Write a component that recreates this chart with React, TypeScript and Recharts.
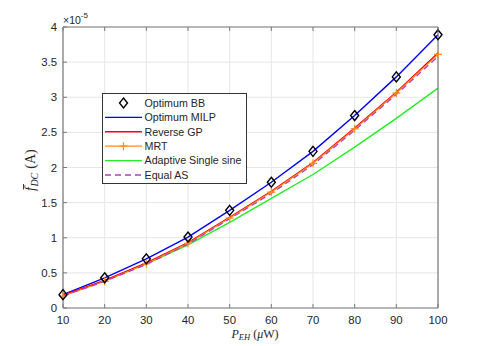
import React from 'react';
import { LineChart, Line, XAxis, YAxis, CartesianGrid, Legend } from 'recharts';

const powerLevels = [10, 20, 30, 40, 50, 60, 70, 80, 90, 100];
const optimumBB = [0.19, 0.43, 0.7, 1.01, 1.39, 1.79, 2.23, 2.74, 3.29, 3.89];
const optimumMILP = [0.19, 0.43, 0.7, 1.01, 1.39, 1.79, 2.23, 2.74, 3.29, 3.89];
const reverseGP = [0.18, 0.39, 0.64, 0.93, 1.29, 1.66, 2.07, 2.56, 3.07, 3.63];
const mrt = [0.17, 0.38, 0.63, 0.92, 1.28, 1.65, 2.06, 2.55, 3.06, 3.61];
const adaptiveSingleSine = [0.18, 0.39, 0.63, 0.9, 1.22, 1.56, 1.9, 2.29, 2.7, 3.13];
const equalAS = [0.17, 0.38, 0.62, 0.91, 1.27, 1.63, 2.04, 2.53, 3.04, 3.58];

const xTicks = [10, 20, 30, 40, 50, 60, 70, 80, 90, 100];
const yTicks = [0, 0.5, 1, 1.5, 2, 2.5, 3, 3.5, 4];
const yTickLabels = ['0', '0.5', '1', '1.5', '2', '2.5', '3', '3.5', '4'];
const exponentLabel = '-5';

const seriesNames = {
  bb: 'Optimum BB',
  milp: 'Optimum MILP',
  gp: 'Reverse GP',
  mrt: 'MRT',
  as: 'Adaptive Single sine',
  eas: 'Equal AS',
};

const COLORS = {
  milp: '#0000ff',
  gp: '#ff0000',
  mrt: '#ff8c1a',
  as: '#22ee22',
  eas: '#b040c0',
};

const data = powerLevels.map((p, i) => ({
  p,
  bb: optimumBB[i],
  milp: optimumMILP[i],
  gp: reverseGP[i],
  mrt: mrt[i],
  as: adaptiveSingleSine[i],
  eas: equalAS[i],
}));

const SANS = '"Liberation Sans", Arial, Helvetica, sans-serif';
const SERIF = '"Liberation Serif", "Times New Roman", serif';
const AXIS_COLOR = '#7a7a7a';
const TEXT_COLOR = '#262626';
const TICK_FS = 11.4;

const BottomTick = (props: any) => {
  const { x, y, payload } = props;
  return (
    <g>
      <line x1={x} x2={x} y1={y} y2={y - 4} stroke={AXIS_COLOR} strokeWidth={1} />
      <text x={x} y={y + 16} textAnchor="middle" fontFamily={SANS} fontSize={TICK_FS} fill={TEXT_COLOR}>
        {payload.value}
      </text>
    </g>
  );
};

const TopTick = (props: any) => {
  const { x, y } = props;
  return <line x1={x} x2={x} y1={y} y2={y + 4} stroke={AXIS_COLOR} strokeWidth={1} />;
};

const LeftTick = (props: any) => {
  const { x, y, payload } = props;
  const idx = yTicks.indexOf(payload.value);
  const label = idx >= 0 ? yTickLabels[idx] : String(payload.value);
  return (
    <g>
      <line x1={x} x2={x + 4} y1={y} y2={y} stroke={AXIS_COLOR} strokeWidth={1} />
      <text x={x - 6} y={y + 4} textAnchor="end" fontFamily={SANS} fontSize={TICK_FS} fill={TEXT_COLOR}>
        {label}
      </text>
    </g>
  );
};

const RightTick = (props: any) => {
  const { x, y } = props;
  return <line x1={x} x2={x - 4} y1={y} y2={y} stroke={AXIS_COLOR} strokeWidth={1} />;
};

const Diamond = (props: any) => {
  const { cx, cy, index } = props;
  if (cx == null || cy == null) return <g key={`d-${index}`} />;
  return (
    <path
      key={`d-${index}`}
      d={`M${cx},${cy - 5} L${cx + 4},${cy} L${cx},${cy + 5} L${cx - 4},${cy} Z`}
      fill="none"
      stroke="#000"
      strokeWidth={1.4}
    />
  );
};

const Plus = (props: any) => {
  const { cx, cy, index } = props;
  if (cx == null || cy == null) return <g key={`p-${index}`} />;
  return (
    <path
      key={`p-${index}`}
      d={`M${cx - 4},${cy} L${cx + 4},${cy} M${cx},${cy - 4} L${cx},${cy + 4}`}
      stroke={COLORS.mrt}
      strokeWidth={1.2}
      fill="none"
    />
  );
};

const LegendBox = () => {
  const rows = [
    { key: 'bb', label: seriesNames.bb },
    { key: 'milp', label: seriesNames.milp },
    { key: 'gp', label: seriesNames.gp },
    { key: 'mrt', label: seriesNames.mrt },
    { key: 'as', label: seriesNames.as },
    { key: 'eas', label: seriesNames.eas },
  ];
  const W = 145;
  const H = 91;
  return (
    <svg width={W} height={H} style={{ display: 'block' }}>
      <rect x={0.5} y={0.5} width={W - 1} height={H - 1} fill="#fff" stroke="#333" strokeWidth={1} />
      {rows.map((r, i) => {
        const cy = 10 + i * 14.4;
        const x1 = 3;
        const x2 = 40;
        const mid = (x1 + x2) / 2;
        let sample: React.ReactNode = null;
        if (r.key === 'bb') {
          sample = (
            <path d={`M${mid},${cy - 5} L${mid + 4},${cy} L${mid},${cy + 5} L${mid - 4},${cy} Z`} fill="none" stroke="#000" strokeWidth={1.4} />
          );
        } else if (r.key === 'mrt') {
          sample = (
            <g>
              <line x1={x1} x2={x2} y1={cy} y2={cy} stroke={COLORS.mrt} strokeWidth={1.2} />
              <path d={`M${mid - 4},${cy} L${mid + 4},${cy} M${mid},${cy - 4} L${mid},${cy + 4}`} stroke={COLORS.mrt} strokeWidth={1.2} />
            </g>
          );
        } else if (r.key === 'eas') {
          sample = <line x1={x1} x2={x2} y1={cy} y2={cy} stroke={COLORS.eas} strokeWidth={1.3} strokeDasharray="6 4" />;
        } else {
          const c = (COLORS as any)[r.key];
          sample = <line x1={x1} x2={x2} y1={cy} y2={cy} stroke={c} strokeWidth={r.key === 'gp' ? 1.6 : 1.4} />;
        }
        return (
          <g key={r.key}>
            {sample}
            <text x={42.5} y={cy + 3.8} fontFamily={SANS} fontSize={10.7} fill={TEXT_COLOR}>
              {r.label}
            </text>
          </g>
        );
      })}
    </svg>
  );
};

const YLabel = () => (
  <g transform="translate(35,169) rotate(-90)">
    <text x={-22} y={0} textAnchor="start" fontFamily={SERIF} fontSize={14} fill={TEXT_COLOR}>
      <tspan fontStyle="italic">f</tspan>
      <tspan fontStyle="italic" fontSize={10} dy={3} dx={0.5}>DC</tspan>
      <tspan dy={-3} dx={4}>(A)</tspan>
    </text>
    <line x1={-20.5} x2={-15} y1={-11.5} y2={-11.5} stroke={TEXT_COLOR} strokeWidth={0.9} />
  </g>
);

const XLabel = () => (
  <text x={255} y={337.5} textAnchor="middle" fontFamily={SERIF} fontSize={12} fill={TEXT_COLOR}>
    <tspan fontStyle="italic">P</tspan>
    <tspan fontStyle="italic" fontSize={8.5} dy={2.5}>EH</tspan>
    <tspan dy={-2.5}> (</tspan>
    <tspan fontStyle="italic">μ</tspan>
    <tspan>W)</tspan>
  </text>
);

const Exponent = () => (
  <text x={63} y={23.5} fontFamily={SANS} fontSize={10.5} fill={TEXT_COLOR}>
    ×10
    <tspan fontSize={8} dy={-5.5}>{exponentLabel}</tspan>
  </text>
);

export default function App() {
  return (
    <div style={{ position: 'absolute', left: 0, top: 0, width: 485, height: 346, background: '#fff' }}>
      <LineChart width={485} height={346} data={data} margin={{ top: 0, right: 0, bottom: 0, left: 0 }}>
        <CartesianGrid stroke="#e6e6e6" strokeWidth={1} />
        <XAxis
          dataKey="p"
          type="number"
          domain={[10, 100]}
          ticks={xTicks}
          interval={0}
          height={38}
          tickSize={0}
          tickMargin={0}
          tickLine={false}
          axisLine={{ stroke: AXIS_COLOR, strokeWidth: 1.2 }}
          tick={<BottomTick />}
          label={{ content: () => <XLabel /> }}
        />
        <XAxis
          xAxisId="top"
          orientation="top"
          dataKey="p"
          type="number"
          domain={[10, 100]}
          ticks={xTicks}
          interval={0}
          height={27}
          tickSize={0}
          tickMargin={0}
          tickLine={false}
          axisLine={{ stroke: AXIS_COLOR, strokeWidth: 1.2 }}
          tick={<TopTick />}
          label={{ content: () => <Exponent /> }}
        />
        <YAxis
          type="number"
          domain={[0, 4]}
          ticks={yTicks}
          interval={0}
          width={63}
          tickSize={0}
          tickMargin={0}
          tickLine={false}
          axisLine={{ stroke: AXIS_COLOR, strokeWidth: 1.2 }}
          tick={<LeftTick />}
          label={{ content: () => <YLabel /> }}
        />
        <YAxis
          yAxisId="right"
          orientation="right"
          type="number"
          domain={[0, 4]}
          ticks={yTicks}
          interval={0}
          width={47}
          tickSize={0}
          tickMargin={0}
          tickLine={false}
          axisLine={{ stroke: AXIS_COLOR, strokeWidth: 1.2 }}
          tick={<RightTick />}
        />
        <Legend
          layout="horizontal"
          verticalAlign="middle"
          align="center"
          content={() => <LegendBox />}
          wrapperStyle={{ left: 102, top: 92.5, width: 145, height: 91 }}
        />
        <Line type="linear" dataKey="as" name={seriesNames.as} stroke={COLORS.as} strokeWidth={1.4} dot={false} isAnimationActive={false} />
        <Line type="linear" dataKey="milp" name={seriesNames.milp} stroke={COLORS.milp} strokeWidth={1.4} dot={false} isAnimationActive={false} />
        <Line type="linear" dataKey="gp" name={seriesNames.gp} stroke={COLORS.gp} strokeWidth={1.6} dot={false} isAnimationActive={false} />
        <Line type="linear" dataKey="mrt" name={seriesNames.mrt} stroke={COLORS.mrt} strokeWidth={1.2} dot={Plus} isAnimationActive={false} />
        <Line type="linear" dataKey="eas" name={seriesNames.eas} stroke={COLORS.eas} strokeWidth={1.3} strokeDasharray="6 4" dot={false} isAnimationActive={false} />
        <Line type="linear" dataKey="bb" name={seriesNames.bb} stroke="none" dot={Diamond} activeDot={false} isAnimationActive={false} />
      </LineChart>
    </div>
  );
}
